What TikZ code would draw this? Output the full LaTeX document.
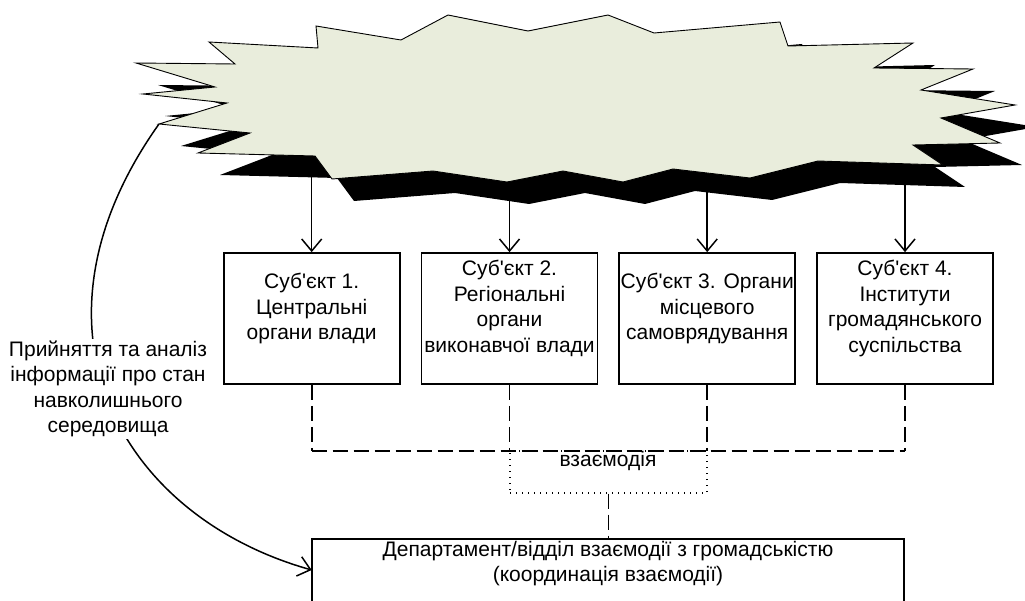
\documentclass[tikz,border=0pt]{standalone}
\usepackage{fontspec}
\setmainfont{Liberation Sans}
\usetikzlibrary{arrows.meta}
\definecolor{burstfill}{RGB}{233,237,220}
\newcommand\ap{\textquotesingle}
\begin{document}
\begin{tikzpicture}[x=1pt,y=-1pt,
  txt/.style={font=\fontsize{21pt}{25.5pt}\selectfont, align=center, inner sep=0pt},
  subj/.style={draw, line width=1.7pt, minimum width=176pt, minimum height=131pt, inner sep=0pt},
  arr/.style={line width=1.5pt, -{Straight Barb[length=12pt,width=20pt]}},
  dsh/.style={line width=1.7pt, dash pattern=on 15pt off 6pt},
  dotbox/.style={draw, line width=1.2pt, dash pattern=on 1.2pt off 4.8pt, minimum width=197pt, minimum height=42pt, inner sep=0pt},
  outline/.style={draw=black, line width=0.9pt, fill=burstfill, line join=miter},
]
\useasboundingbox (0,0) rectangle (1025,601);
\clip (0,0) rectangle (1025,601);

% subject boxes
\node[subj] (s1) at (311.7,318.5) {};
\node[subj] (s2) at (509.5,318.5) {};
\node[subj] (s3) at (707.2,318.5) {};
\node[subj] (s4) at (905,318.5) {};
\node[txt] (s1t) at (311.7,308.5) {Суб\ap єкт 1.\\Центральні\\органи влади};
\node[txt] (s2t) at (509.5,308.5) {Суб\ap єкт 2.\\Регіональні\\органи\\виконавчої влади};
\node[txt] (s3t) at (707.2,308.5) {Суб\ap єкт 3. Органи\\місцевого\\самоврядування};
\node[txt] (s4t) at (905,308.5) {Суб\ap єкт 4.\\Інститути\\громадянського\\суспільства};

% interaction box
\node[dotbox] (vz) at (608.5,472) {};
\node[txt] (vzt) at (608,461) {взаємодія};

% department box
\node[draw, line width=1.7pt, minimum width=592pt, minimum height=90pt, inner sep=0pt, anchor=north] (dept) at (608,538) {};
\node[txt, anchor=north] (deptt) at (608,541) {Департамент/відділ взаємодії з громадськістю\\(координація взаємодії)};

% dashed connections
\coordinate (hl) at (0,451);
\draw[dsh] (s1.south) -- (s1.south |- hl);
\draw[dsh] (s2.south) -- (s2.south |- hl);
\draw[dsh] (s3.south) -- (s3.south |- hl);
\draw[dsh] (s4.south) -- (s4.south |- hl);
\draw[dsh] (s1.south |- hl) -- (s4.south |- hl);
\draw[dsh] (vz.south) -- (vz.south |- dept.north);

% curved arrow
\coordinate (cs) at (159,124);
\coordinate (ae) at (311.7,570);
\draw[arr] (cs) .. controls (14,328) and (120,516) .. (ae);
\node[txt, fill=white, inner sep=2pt] (lbl) at (108,389) {Прийняття та аналіз\\інформації про стан\\навколишнього\\середовища};

% arrows from environment
\coordinate (t1) at (311.7,150);
\coordinate (t2) at (509.5,165);
\coordinate (t3) at (707.2,160);
\coordinate (t4) at (905,150);
\draw[arr] (t1) -- (s1.north);
\draw[arr] (t2) -- (s2.north);
\draw[arr] (t3) -- (s3.north);
\draw[arr] (t4) -- (s4.north);

% environment (starburst) with shadow
\fill[black, shift={(22,22)}] (136,63) -- (235,64) -- (209,42) -- (318,48) -- (316,26) -- (401,40) -- (448,15) -- (528,31) -- (608,15) -- (654,33) -- (780,22) -- (788,46) -- (913,43) -- (874,68) -- (973,69) -- (921,90) -- (1015,105) -- (941,118) -- (1000,143) -- (913,145) -- (943,165) -- (818,161) -- (750,178) -- (673,169) -- (623,182) -- (563,171) -- (507,182) -- (433,171) -- (332,179) -- (315,156) -- (198,153) -- (250,133) -- (159,124) -- (227,103) -- (143,94) -- (215,87) -- cycle;
\path[outline] (136,63) -- (235,64) -- (209,42) -- (318,48) -- (316,26) -- (401,40) -- (448,15) -- (528,31) -- (608,15) -- (654,33) -- (780,22) -- (788,46) -- (913,43) -- (874,68) -- (973,69) -- (921,90) -- (1015,105) -- (941,118) -- (1000,143) -- (913,145) -- (943,165) -- (818,161) -- (750,178) -- (673,169) -- (623,182) -- (563,171) -- (507,182) -- (433,171) -- (332,179) -- (315,156) -- (198,153) -- (250,133) -- (159,124) -- (227,103) -- (143,94) -- (215,87) -- cycle;
\end{tikzpicture}
\end{document}
